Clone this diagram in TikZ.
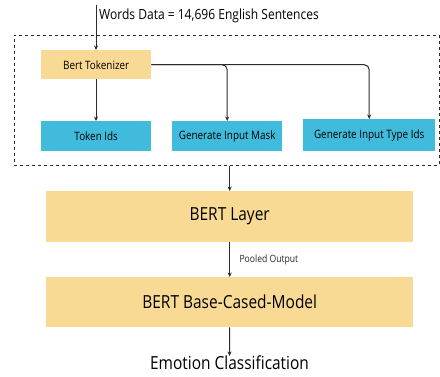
\documentclass[tikz,border=0pt]{standalone}
\usepackage{fontspec}
\setmainfont[FakeStretch=0.86]{Open Sans}
\usetikzlibrary{arrows.meta,positioning}
\definecolor{orng}{HTML}{F9DA94}
\definecolor{blu}{HTML}{40BBDC}
\definecolor{ln}{HTML}{2B2B2B}
\tikzset{
  box/.style={rectangle,inner sep=0pt,anchor=north west,text=black},
  obox/.style={box,fill=orng},
  bbox/.style={box,fill=blu},
  small/.style={font=\fontsize{11.5}{13}\selectfont},
  arr/.style={draw=ln,line width=1pt,-{Stealth[length=4.5pt,width=4pt]}},
}
\begin{document}
\begin{tikzpicture}[x=1pt,y=-1pt]
\useasboundingbox (0,0) rectangle (440,377);
% dashed group
\node[box,draw=ln,dashed,line width=0.8pt,minimum width=425pt,minimum height=130pt] (grp) at (14,35) {};
% nodes
\node[obox,small,minimum width=110pt,minimum height=29pt] (tok) at (41,50) {Bert Tokenizer};
\node[bbox,small,minimum width=110pt,minimum height=30pt] (tid) at (41,121) {Token Ids};
\node[bbox,small,minimum width=110pt,minimum height=30pt] (gim) at (172,121) {Generate Input Mask};
\node[bbox,small,minimum width=132pt,minimum height=32pt] (gti) at (303,119) {Generate Input Type Ids};
\node[obox,minimum width=367pt,minimum height=51pt,font=\fontsize{18}{21}\selectfont] (bl) at (46,191) {BERT Layer};
\node[obox,minimum width=367pt,minimum height=50pt,font=\fontsize{18}{21}\selectfont] (bb) at (46,277) {BERT Base-Cased-Model};
\node[anchor=west,inner sep=0pt,font=\fontsize{14}{16}\selectfont] (words) at (99,16) {Words Data = 14,696 English Sentences};
\node[anchor=north,inner sep=0pt,font=\fontsize{18}{21}\selectfont] (emo) at (229.5,356) {Emotion Classification};
\coordinate (in) at (96,5);
% connectors
\draw[arr] (in) -- (tok.north -| in);
\draw[arr] (tok.south -| in) -- (tid.north -| in);
\draw[arr,rounded corners=5pt] (tok.east) -| (gim.north);
\draw[arr,rounded corners=5pt] (tok.east) -| (gti.north);
\draw[arr] (bl.north |- grp.south) -- (bl.north);
\draw[arr] (bl.south) -- node[right=6pt,font=\fontsize{10}{12}\selectfont,text=black!85] (po) {Pooled Output} (bb.north);
\draw[arr] (bb.south) -- (emo.north);
\end{tikzpicture}
\end{document}
